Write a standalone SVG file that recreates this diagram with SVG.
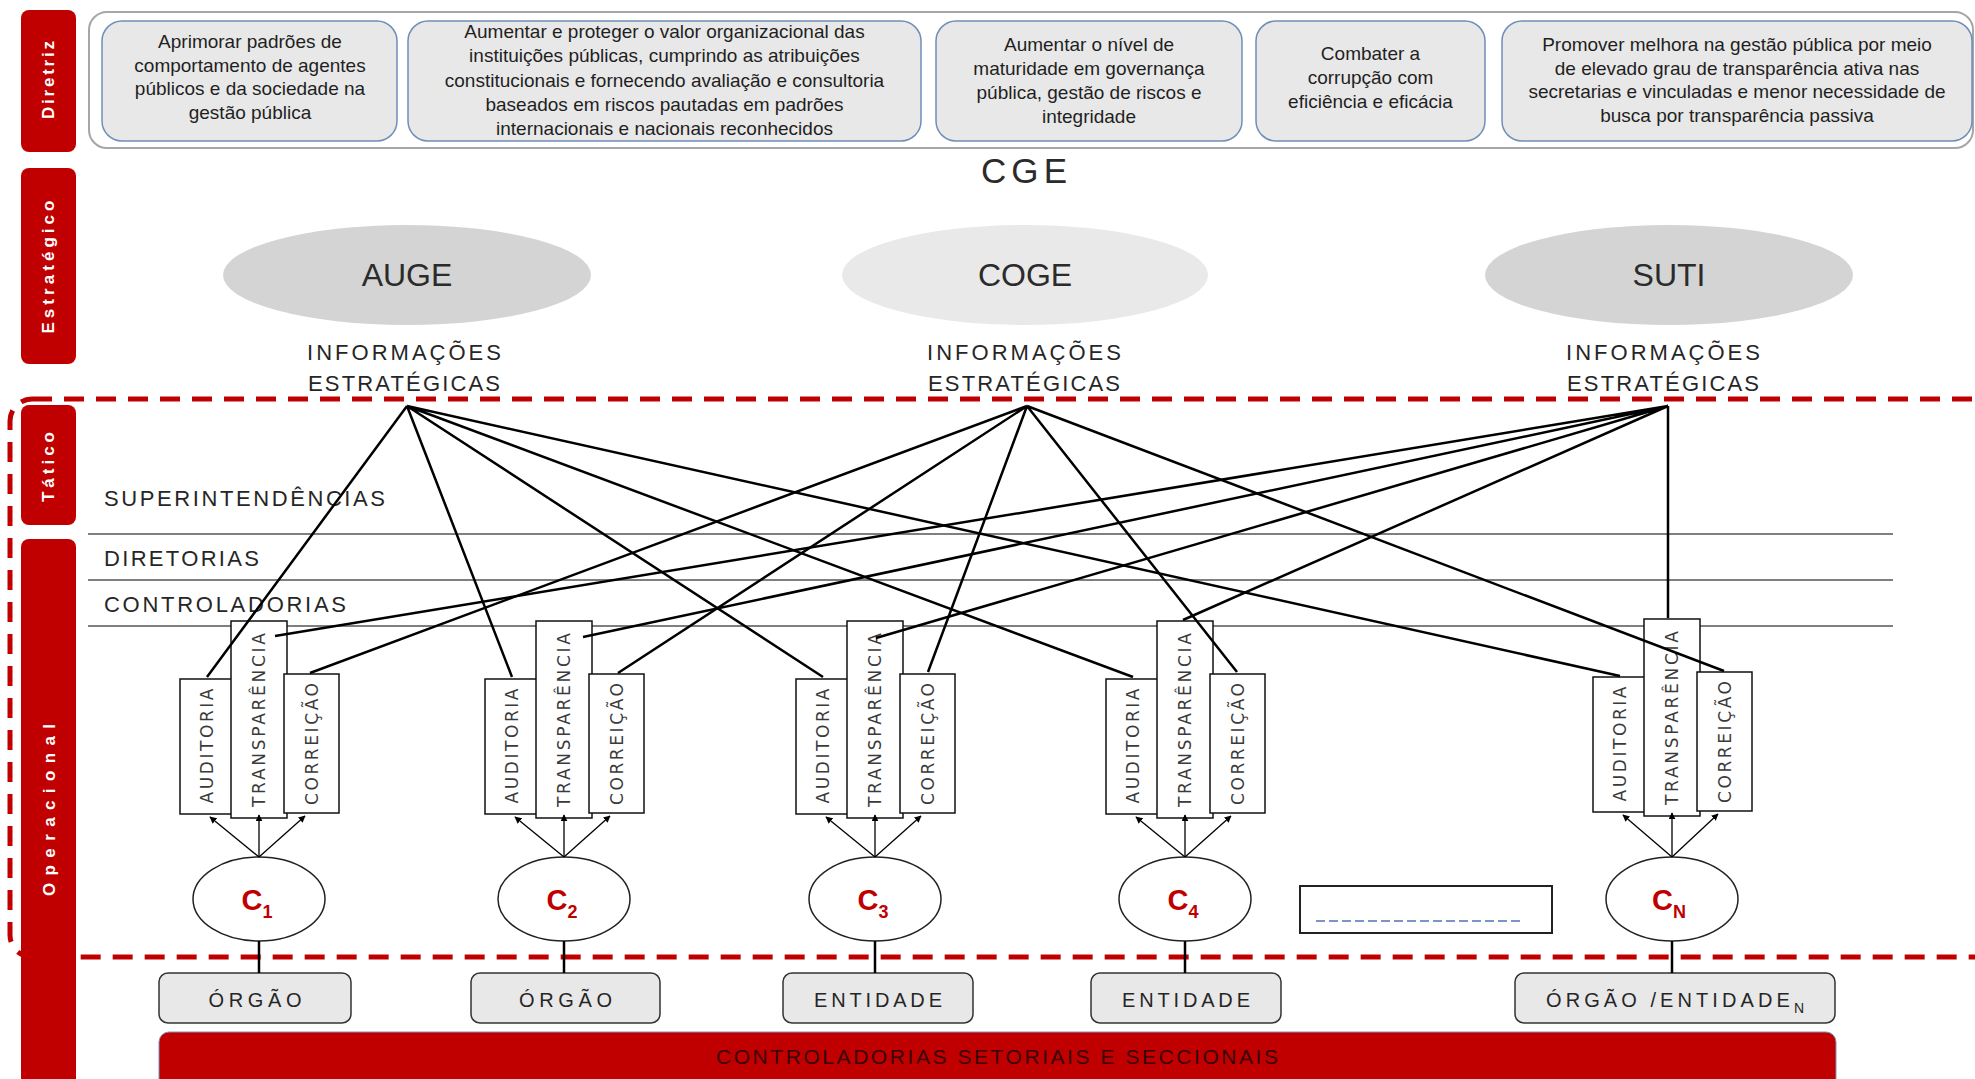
<svg xmlns="http://www.w3.org/2000/svg" width="1975" height="1079" viewBox="0 0 1975 1079">
<defs>
<style>
.lbl{fill:#c00000;}
.lbltxt{font-family:"Liberation Sans",Arial,sans-serif;font-weight:bold;fill:#ffffff;font-size:17px;}
.dbox{fill:#e8e8e8;stroke:#6f8fb8;stroke-width:1.5;}
.dtxt{font-family:"Liberation Sans",Arial,sans-serif;font-size:19px;fill:#1f1f1f;text-anchor:middle;}
.big{font-family:"Liberation Sans",Arial,sans-serif;fill:#2b2b2b;text-anchor:middle;}
.cap{font-family:"Liberation Sans",Arial,sans-serif;fill:#262626;font-size:22px;}
.hl{stroke:#7f7f7f;stroke-width:2;}
.vb{fill:#ffffff;stroke:#111111;stroke-width:1.5;}
.vt{font-family:"DejaVu Sans",Verdana,sans-serif;font-size:17px;fill:#3a3a3a;text-anchor:middle;dominant-baseline:central;}
.con{stroke:#000000;stroke-width:2.5;fill:none;}
.arr{stroke:#000000;stroke-width:1.3;fill:none;marker-end:url(#ah);}
.circ{fill:#ffffff;stroke:#222222;stroke-width:1.5;}
.ctxt{font-family:"Liberation Sans",Arial,sans-serif;font-weight:bold;font-size:29px;fill:#c00000;text-anchor:middle;}
.ob{fill:#e8e8e8;stroke:#333333;stroke-width:1.5;}
.otxt{font-family:"Liberation Sans",Arial,sans-serif;font-size:20px;fill:#262626;text-anchor:middle;}
.stem{stroke:#000000;stroke-width:2.5;}
</style>
<marker id="ah" viewBox="0 0 10 10" refX="9" refY="5" markerWidth="7" markerHeight="7" markerUnits="userSpaceOnUse" orient="auto">
<path d="M0,0 L10,5 L0,10 z" fill="#000"/>
</marker>
</defs>
<rect width="1975" height="1079" fill="#ffffff"/>

<!-- Left level labels -->
<g id="lbl-diretriz">
<rect class="lbl" x="21" y="10" width="55" height="142" rx="8"/>
<text class="lbltxt" transform="translate(54,80) rotate(-90)" text-anchor="middle" textLength="78" lengthAdjust="spacing">Diretriz</text>
</g>
<g id="lbl-estrategico">
<rect class="lbl" x="21" y="168" width="55" height="196" rx="8"/>
<text class="lbltxt" transform="translate(54,267) rotate(-90)" text-anchor="middle" textLength="133" lengthAdjust="spacing">Estratégico</text>
</g>
<g id="lbl-tatico">
<rect class="lbl" x="21" y="405" width="55" height="120" rx="8"/>
<text class="lbltxt" transform="translate(54,467) rotate(-90)" text-anchor="middle" textLength="70" lengthAdjust="spacing">Tático</text>
</g>
<g id="lbl-operacional">
<rect class="lbl" x="21" y="539" width="55" height="560" rx="8"/>
<text class="lbltxt" transform="translate(55,810) rotate(-90)" text-anchor="middle" textLength="172" lengthAdjust="spacing" font-size="18">Operacional</text>
</g>

<!-- Diretriz row -->
<g id="diretriz-frame">
<rect x="89" y="12" width="1884" height="136" rx="18" fill="#ffffff" stroke="#a6a6a6" stroke-width="2"/>
</g>
<g id="d1">
<rect class="dbox" x="102" y="21" width="295" height="120" rx="20"/>
<text class="dtxt" x="250" y="48">Aprimorar padrões de</text>
<text class="dtxt" x="250" y="71.5">comportamento de agentes</text>
<text class="dtxt" x="250" y="95">públicos e da sociedade na</text>
<text class="dtxt" x="250" y="118.5">gestão pública</text>
</g>
<g id="d2">
<rect class="dbox" x="408" y="21" width="513" height="120" rx="20"/>
<text class="dtxt" x="664.5" y="38">Aumentar e proteger o valor organizacional das</text>
<text class="dtxt" x="664.5" y="62">instituições públicas, cumprindo as atribuições</text>
<text class="dtxt" x="664.5" y="86.5">constitucionais e fornecendo avaliação e consultoria</text>
<text class="dtxt" x="664.5" y="111">baseados em riscos pautadas em padrões</text>
<text class="dtxt" x="664.5" y="135">internacionais e nacionais reconhecidos</text>
</g>
<g id="d3">
<rect class="dbox" x="936" y="21" width="306" height="120" rx="20"/>
<text class="dtxt" x="1089" y="51">Aumentar o nível de</text>
<text class="dtxt" x="1089" y="75">maturidade em governança</text>
<text class="dtxt" x="1089" y="99">pública, gestão de riscos e</text>
<text class="dtxt" x="1089" y="123">integridade</text>
</g>
<g id="d4">
<rect class="dbox" x="1256" y="21" width="229" height="120" rx="20"/>
<text class="dtxt" x="1370.5" y="60">Combater a</text>
<text class="dtxt" x="1370.5" y="84">corrupção com</text>
<text class="dtxt" x="1370.5" y="108">eficiência e eficácia</text>
</g>
<g id="d5">
<rect class="dbox" x="1502" y="21" width="470" height="120" rx="20"/>
<text class="dtxt" x="1737" y="51">Promover melhora na gestão pública por meio</text>
<text class="dtxt" x="1737" y="74.5">de elevado grau de transparência ativa nas</text>
<text class="dtxt" x="1737" y="98">secretarias e vinculadas e menor necessidade de</text>
<text class="dtxt" x="1737" y="121.5">busca por transparência passiva</text>
</g>

<!-- CGE and strategic ellipses -->
<g id="cge">
<text class="big" x="1024" y="183" font-size="35" textLength="86" lengthAdjust="spacing">CGE</text>
</g>
<g id="auge">
<ellipse cx="407" cy="275" rx="184" ry="50" fill="#d4d4d4"/>
<text class="big" x="407" y="286" font-size="32">AUGE</text>
<text class="cap" x="404" y="360" text-anchor="middle" textLength="194" lengthAdjust="spacing">INFORMAÇÕES</text>
<text class="cap" x="404" y="391" text-anchor="middle" textLength="192" lengthAdjust="spacing">ESTRATÉGICAS</text>
</g>
<g id="coge">
<ellipse cx="1025" cy="275" rx="183" ry="50" fill="#e9e9e9"/>
<text class="big" x="1025" y="286" font-size="32">COGE</text>
<text class="cap" x="1024" y="360" text-anchor="middle" textLength="194" lengthAdjust="spacing">INFORMAÇÕES</text>
<text class="cap" x="1024" y="391" text-anchor="middle" textLength="192" lengthAdjust="spacing">ESTRATÉGICAS</text>
</g>
<g id="suti">
<ellipse cx="1669" cy="275" rx="184" ry="50" fill="#d4d4d4"/>
<text class="big" x="1669" y="286" font-size="32">SUTI</text>
<text class="cap" x="1663" y="360" text-anchor="middle" textLength="194" lengthAdjust="spacing">INFORMAÇÕES</text>
<text class="cap" x="1663" y="391" text-anchor="middle" textLength="192" lengthAdjust="spacing">ESTRATÉGICAS</text>
</g>

<!-- Red dashed frame -->
<g id="frame">
<rect x="10" y="399" width="1995" height="558" rx="22" fill="none" stroke="#c00000" stroke-width="5" stroke-dasharray="20 12"/>
</g>

<!-- Levels -->
<g id="levels">
<line class="hl" x1="88" y1="534" x2="1893" y2="534"/>
<line class="hl" x1="88" y1="580" x2="1893" y2="580"/>
<line class="hl" x1="88" y1="626" x2="1893" y2="626"/>
<text class="cap" x="104" y="506" textLength="281" lengthAdjust="spacing">SUPERINTENDÊNCIAS</text>
<text class="cap" x="104" y="566" textLength="155" lengthAdjust="spacing">DIRETORIAS</text>
<text class="cap" x="104" y="612" textLength="242" lengthAdjust="spacing">CONTROLADORIAS</text>
</g>

<!-- Unit groups -->
<g id="g1">
<rect class="vb" x="180" y="679" width="54" height="135"/>
<rect class="vb" x="231" y="621" width="56" height="197"/>
<rect class="vb" x="284" y="674" width="55" height="139"/>
<text class="vt" transform="translate(207,746) rotate(-90)" textLength="115" lengthAdjust="spacing">AUDITORIA</text>
<text class="vt" transform="translate(259,720) rotate(-90)" textLength="174" lengthAdjust="spacing">TRANSPARÊNCIA</text>
<text class="vt" transform="translate(311.5,744) rotate(-90)" textLength="122" lengthAdjust="spacing">CORREIÇÃO</text>
<ellipse class="circ" cx="259" cy="899" rx="66" ry="42"/>
<text class="ctxt" x="257" y="910">C<tspan font-size="18" dy="8">1</tspan></text>
<rect class="ob" x="159" y="973" width="192" height="50" rx="9"/>
<text class="otxt" x="255" y="1007" textLength="93" lengthAdjust="spacing">ÓRGÃO</text>
</g>
<g id="g2">
<rect class="vb" x="485" y="679" width="54" height="135"/>
<rect class="vb" x="536" y="621" width="56" height="197"/>
<rect class="vb" x="589" y="674" width="55" height="139"/>
<text class="vt" transform="translate(512,746) rotate(-90)" textLength="115" lengthAdjust="spacing">AUDITORIA</text>
<text class="vt" transform="translate(564,720) rotate(-90)" textLength="174" lengthAdjust="spacing">TRANSPARÊNCIA</text>
<text class="vt" transform="translate(616.5,744) rotate(-90)" textLength="122" lengthAdjust="spacing">CORREIÇÃO</text>
<ellipse class="circ" cx="564" cy="899" rx="66" ry="42"/>
<text class="ctxt" x="562" y="910">C<tspan font-size="18" dy="8">2</tspan></text>
<rect class="ob" x="471" y="973" width="189" height="50" rx="9"/>
<text class="otxt" x="565.5" y="1007" textLength="93" lengthAdjust="spacing">ÓRGÃO</text>
</g>
<g id="g3">
<rect class="vb" x="796" y="679" width="54" height="135"/>
<rect class="vb" x="847" y="621" width="56" height="197"/>
<rect class="vb" x="900" y="674" width="55" height="139"/>
<text class="vt" transform="translate(823,746) rotate(-90)" textLength="115" lengthAdjust="spacing">AUDITORIA</text>
<text class="vt" transform="translate(875,720) rotate(-90)" textLength="174" lengthAdjust="spacing">TRANSPARÊNCIA</text>
<text class="vt" transform="translate(927.5,744) rotate(-90)" textLength="122" lengthAdjust="spacing">CORREIÇÃO</text>
<ellipse class="circ" cx="875" cy="899" rx="66" ry="42"/>
<text class="ctxt" x="873" y="910">C<tspan font-size="18" dy="8">3</tspan></text>
<rect class="ob" x="783" y="973" width="190" height="50" rx="9"/>
<text class="otxt" x="878" y="1007" textLength="128" lengthAdjust="spacing">ENTIDADE</text>
</g>
<g id="g4">
<rect class="vb" x="1106" y="679" width="54" height="135"/>
<rect class="vb" x="1157" y="621" width="56" height="197"/>
<rect class="vb" x="1210" y="674" width="55" height="139"/>
<text class="vt" transform="translate(1133,746) rotate(-90)" textLength="115" lengthAdjust="spacing">AUDITORIA</text>
<text class="vt" transform="translate(1185,720) rotate(-90)" textLength="174" lengthAdjust="spacing">TRANSPARÊNCIA</text>
<text class="vt" transform="translate(1237.5,744) rotate(-90)" textLength="122" lengthAdjust="spacing">CORREIÇÃO</text>
<ellipse class="circ" cx="1185" cy="899" rx="66" ry="42"/>
<text class="ctxt" x="1183" y="910">C<tspan font-size="18" dy="8">4</tspan></text>
<rect class="ob" x="1091" y="973" width="190" height="50" rx="9"/>
<text class="otxt" x="1186" y="1007" textLength="128" lengthAdjust="spacing">ENTIDADE</text>
</g>
<g id="gN">
<rect class="vb" x="1593" y="677" width="54" height="135"/>
<rect class="vb" x="1644" y="619" width="56" height="197"/>
<rect class="vb" x="1697" y="672" width="55" height="139"/>
<text class="vt" transform="translate(1620,744) rotate(-90)" textLength="115" lengthAdjust="spacing">AUDITORIA</text>
<text class="vt" transform="translate(1672,718) rotate(-90)" textLength="174" lengthAdjust="spacing">TRANSPARÊNCIA</text>
<text class="vt" transform="translate(1724.5,742) rotate(-90)" textLength="122" lengthAdjust="spacing">CORREIÇÃO</text>
<ellipse class="circ" cx="1672" cy="899" rx="66" ry="42"/>
<text class="ctxt" x="1669" y="910">C<tspan font-size="18" dy="8">N</tspan></text>
<rect class="ob" x="1515" y="973" width="320" height="50" rx="9"/>
<text class="otxt" x="1675" y="1007" textLength="258" lengthAdjust="spacing">ÓRGÃO /ENTIDADE<tspan font-size="14" dy="6">N</tspan></text>
</g>

<!-- placeholder -->
<g id="placeholder">
<rect x="1300" y="886" width="252" height="47" fill="#ffffff" stroke="#222222" stroke-width="2"/>
<line x1="1316" y1="921" x2="1524" y2="921" stroke="#7b96c6" stroke-width="2" stroke-dasharray="9 4"/>
</g>

<!-- bottom bar -->
<g id="setoriais">
<rect x="159" y="1032" width="1677" height="70" rx="10" fill="#c00000" stroke="#7a95bd" stroke-width="1"/>
<text x="997" y="1064" font-family="'Liberation Sans',Arial,sans-serif" font-size="21" fill="#3a0505" text-anchor="middle" textLength="562" lengthAdjust="spacing">CONTROLADORIAS SETORIAIS E SECCIONAIS</text>
</g>

<!-- Connectors -->
<g id="connectors">
<path class="con" d="M407,406 L207,677 M407,406 L512,677 M407,406 L823,677 M407,406 L1133,677 M407,406 L1620,676"/>
<path class="con" d="M1027,406 L310,673 M1027,406 L618,673 M1027,406 L928,672 M1027,406 L1237,672 M1027,406 L1724,671"/>
<path class="con" d="M1668,406 L275,636 M1668,406 L583,637 M1668,406 L876,638 M1668,406 L1183,620 M1668,406 L1668,618"/>
<line class="arr" x1="259" y1="857" x2="210" y2="817"/>
<line class="arr" x1="259" y1="857" x2="259" y2="815"/>
<line class="arr" x1="259" y1="857" x2="305" y2="816"/>
<line class="arr" x1="564" y1="857" x2="515" y2="817"/>
<line class="arr" x1="564" y1="857" x2="564" y2="815"/>
<line class="arr" x1="564" y1="857" x2="610" y2="816"/>
<line class="arr" x1="875" y1="857" x2="826" y2="817"/>
<line class="arr" x1="875" y1="857" x2="875" y2="815"/>
<line class="arr" x1="875" y1="857" x2="921" y2="816"/>
<line class="arr" x1="1185" y1="857" x2="1136" y2="817"/>
<line class="arr" x1="1185" y1="857" x2="1185" y2="815"/>
<line class="arr" x1="1185" y1="857" x2="1231" y2="816"/>
<line class="arr" x1="1672" y1="857" x2="1623" y2="815"/>
<line class="arr" x1="1672" y1="857" x2="1672" y2="813"/>
<line class="arr" x1="1672" y1="857" x2="1718" y2="814"/>
<line class="stem" x1="259" y1="941" x2="259" y2="973"/>
<line class="stem" x1="564" y1="941" x2="564" y2="973"/>
<line class="stem" x1="875" y1="941" x2="875" y2="973"/>
<line class="stem" x1="1185" y1="941" x2="1185" y2="973"/>
<line class="stem" x1="1672" y1="941" x2="1672" y2="973"/>
</g>
</svg>
